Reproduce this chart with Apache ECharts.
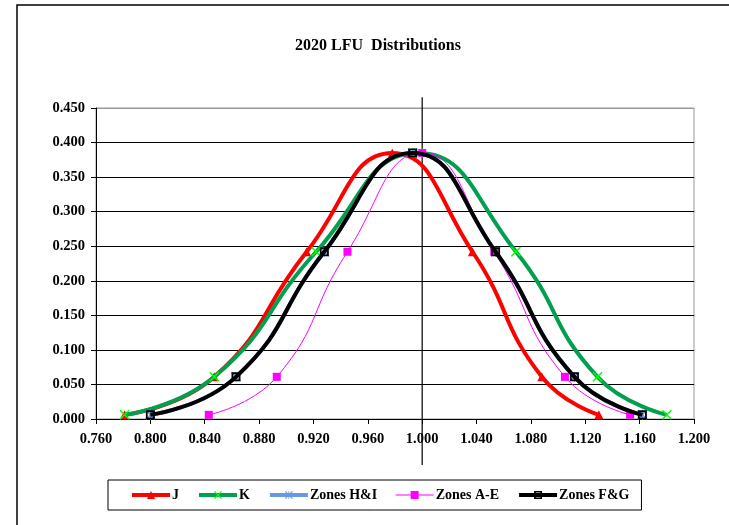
<!DOCTYPE html>
<html>
<head>
<meta charset="utf-8">
<script src="https://cdn.jsdelivr.net/npm/echarts@6/dist/echarts.min.js"></script>
<style>html,body{margin:0;padding:0;background:#fff;}#c{width:729px;height:525px;}</style>
</head>
<body>
<div id="c"></div>
<script>
var title = '2020 LFU  Distributions';
var seriesNames = ['J', 'K', 'Zones H&I', 'Zones A-E', 'Zones F&G'];
var yVals = [0.006, 0.061, 0.242, 0.385, 0.242, 0.061, 0.006];
var xJ  = [0.781, 0.847, 0.915, 0.978, 1.037, 1.088, 1.130];
var xK  = [0.781, 0.847, 0.922, 0.997, 1.069, 1.129, 1.180];
var xHI = [0.800, 0.863, 0.928, 0.993, 1.054, 1.112, 1.162];
var xAE = [0.843, 0.893, 0.945, 1.000, 1.053, 1.105, 1.153];
var xFG = [0.800, 0.863, 0.928, 0.993, 1.054, 1.112, 1.162];
var crossX = [1.000, 1.000];
var crossY = [-0.0665, 0.4655];

function pts(xs, ys) { return xs.map(function (x, i) { return [x, ys[i]]; }); }
var FONT = '"Liberation Serif", "Times New Roman", serif';
var xPath = 'path://M0,1L1,0L5,4L9,0L10,1L6,5L10,9L9,10L5,6L1,10L0,9L4,5Z';
var starPath = 'path://M0,1L1,0L5,4L9,0L10,1L6,5L10,9L9,10L5,6L1,10L0,9L4,5Z M4.5,0L5.5,0L5.5,10L4.5,10Z';
var sqPath = 'path://M0,0L10,0L10,10L0,10Z M2,2L2,8L8,8L8,2Z';

var chart = echarts.init(document.getElementById('c'), null, {renderer: 'canvas'});
var smooth = 0.5;
chart.setOption({
  animation: false,
  backgroundColor: '#fff',
  title: {
    text: title, left: 373, top: 33, textAlign: 'center',
    textStyle: {fontFamily: FONT, fontWeight: 'bold', fontSize: 16, color: '#000'}
  },
  graphic: [{
    type: 'rect', silent: true,
    shape: {x: 17, y: 5, width: 800, height: 700},
    style: {fill: 'none', stroke: '#000', lineWidth: 1.5}
  }],
  legend: {
    data: seriesNames,
    left: 108, top: 480,
    padding: [8, 12, 8, 22],
    itemGap: 18, itemWidth: 38, itemHeight: 10,
    borderColor: '#000', borderWidth: 1,
    lineStyle: {width: 'inherit'},
    textStyle: {fontFamily: FONT, fontWeight: 'bold', fontSize: 14, color: '#000', padding: [0, 0, 0, -3]}
  },
  grid: {left: 96, right: 35, top: 108, bottom: 106, show: true, borderColor: '#999', borderWidth: 1, backgroundColor: 'transparent'},
  xAxis: {
    type: 'value', min: 0.76, max: 1.2, interval: 0.04,
    axisLine: {show: true, onZero: false, lineStyle: {color: '#000', width: 1}},
    axisTick: {show: true, inside: false, length: 5, lineStyle: {color: '#000'}},
    axisLabel: {fontFamily: FONT, fontWeight: 'bold', fontSize: 14.5, color: '#000', margin: 13,
      formatter: function (v) { return v.toFixed(3); }},
    splitLine: {show: false}
  },
  yAxis: {
    type: 'value', min: 0, max: 0.45, interval: 0.05,
    axisLine: {show: true, lineStyle: {color: '#000', width: 1}},
    axisTick: {show: true, inside: false, length: 5, lineStyle: {color: '#000'}},
    axisLabel: {fontFamily: FONT, fontWeight: 'bold', fontSize: 14.5, color: '#000', margin: 11,
      formatter: function (v) { return v.toFixed(3); }},
    splitLine: {show: true, lineStyle: {color: ['#000','#000','#000','#000','#000','#000','#000','#000','#000','#999'], width: 1.2}}
  },
  series: [
    {
      name: 'cross', type: 'line', data: pts(crossX, crossY), symbol: 'none', clip: false, silent: true,
      lineStyle: {color: '#000', width: 1.2}, z: 1
    },
    {
      name: 'J', type: 'line', data: pts(xJ, yVals), smooth: smooth,
      symbol: 'triangle', symbolSize: 9, showAllSymbol: true,
      lineStyle: {color: '#FF0000', width: 4}, itemStyle: {color: '#FF0000'}, z: 2
    },
    {
      name: 'K', type: 'line', data: pts(xK, yVals), smooth: smooth,
      symbol: xPath, symbolSize: 10, showAllSymbol: true,
      lineStyle: {color: '#00A050', width: 4}, itemStyle: {color: '#00FF00'}, z: 3
    },
    {
      name: 'Zones H&I', type: 'line', data: pts(xHI, yVals), smooth: smooth,
      symbol: starPath, symbolSize: 10, showAllSymbol: true,
      lineStyle: {color: '#6699E0', width: 4}, itemStyle: {color: '#6699E0'}, z: 4
    },
    {
      name: 'Zones A-E', type: 'line', data: pts(xAE, yVals), smooth: smooth,
      symbol: 'rect', symbolSize: 8, showAllSymbol: true,
      lineStyle: {color: '#FF00FF', width: 1}, itemStyle: {color: '#FF00FF'}, z: 5
    },
    {
      name: 'Zones F&G', type: 'line', data: pts(xFG, yVals), smooth: smooth,
      symbol: sqPath, symbolSize: 9, showAllSymbol: true,
      lineStyle: {color: '#000', width: 4}, itemStyle: {color: '#000'}, z: 6
    }
  ]
});
</script>
</body>
</html>
